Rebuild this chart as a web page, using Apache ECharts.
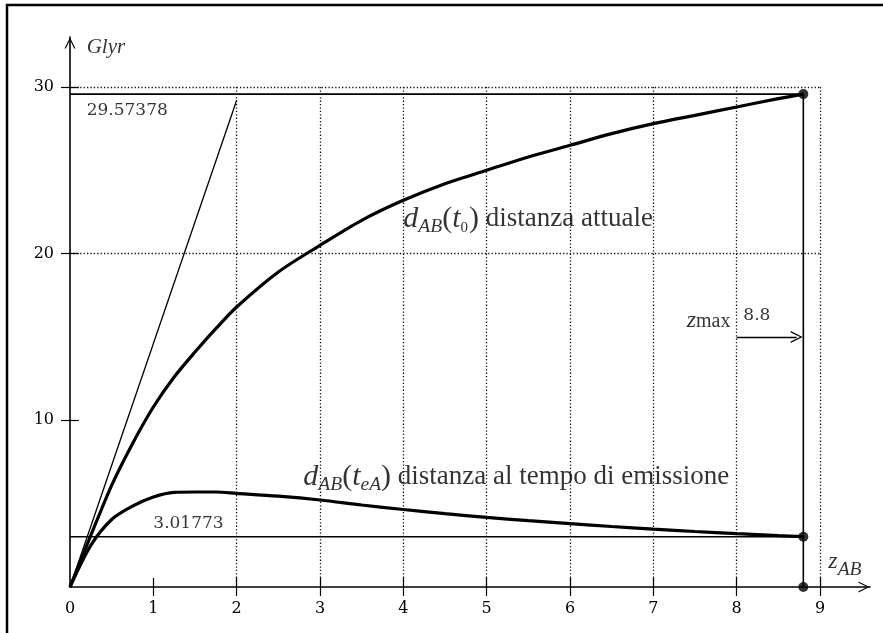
<!DOCTYPE html>
<html>
<head>
<meta charset="utf-8">
<script src="https://cdn.jsdelivr.net/npm/echarts@6/dist/echarts.min.js"></script>
<style>html,body{margin:0;padding:0;background:#fff;}#c{width:883px;height:633px;}</style>
</head>
<body>
<div id="c"></div>
<script>
// ---- data ----
const zValues = [0, 0.25, 0.5, 0.75, 1, 1.25, 1.5, 1.75, 2, 2.5, 3, 3.5, 4, 4.5, 5, 5.5, 6, 6.5, 7, 7.5, 8, 8.5, 8.8];
const dNow    = [0, 3.1, 6.1, 8.6, 10.8, 12.6, 14.1, 15.5, 16.8, 18.9, 20.5, 22.0, 23.2, 24.2, 25.0, 25.8, 26.5, 27.2, 27.8, 28.3, 28.8, 29.3, 29.57378];
const dEmit   = [0, 2.5, 4.05, 4.85, 5.4, 5.68, 5.7, 5.7, 5.62, 5.45, 5.22, 4.92, 4.65, 4.4, 4.18, 3.98, 3.8, 3.63, 3.47, 3.33, 3.2, 3.08, 3.01773];
const hubbleZ = [0, 2];
const hubbleD = [0, 29.2];
const zMax = 8.8;
const dNowMax = 29.57378;
const dEmitMax = 3.01773;
const zMaxArrowFrom = 8;
const zMaxArrowTo = 8.72;
const zMaxArrowY = 15;
const xTickValues = [0, 1, 2, 3, 4, 5, 6, 7, 8, 9];
const xCrossTicks = [1, 2, 3, 4, 5, 6, 7, 8, 9];
const yTickValues = [10, 20, 30];

const pairs = (xs, ys) => xs.map((x, i) => [x, ys[i]]);
const chevron = 'path://M0,12 L6,0 L12,12 L10.6,12 L6,2.6 L1.4,12 Z';
const serif = 'Liberation Serif';
const numFont = 'DejaVu Serif';
const dotted = { color: '#111', width: 1.3, type: [1.3, 2.1] };

const chart = echarts.init(document.getElementById('c'), null, { renderer: 'canvas' });

const annotations = [
  { value: [0.2, 28.6], text: '29.57378', font: { fontFamily: numFont, fontSize: 17 } },
  { value: [1.0, 3.78], text: '3.01773', font: { fontFamily: numFont, fontSize: 17 } },
  { value: [8.08, 16.3], text: '8.8', font: { fontFamily: numFont, fontSize: 17 } },
  { value: [0.2, 32.4], text: '{gi|Glyr}' },
  { value: [9.1, 1.5], text: '{zi|z}{sub|AB}' },
  { value: [7.4, 16.0], text: '{zi|z}{mx|max}' },
  { value: [4.0, 22.1], text: '{m|d}{sub|AB}{p|(}{m|t}{sub0|0}{p|)}{tx| distanza attuale}' },
  { value: [2.8, 6.6], text: '{m|d}{sub|AB}{p|(}{m|t}{sub|eA}{p|)}{tx| distanza al tempo di emissione}' }
];

const richStyles = {
  gi: { fontFamily: serif, fontStyle: 'italic', fontSize: 21, color: '#000' },
  zi: { fontFamily: serif, fontStyle: 'italic', fontSize: 24, color: '#000' },
  mx: { fontFamily: serif, fontSize: 20, color: '#000', padding: [3, 0, 0, 0] },
  m: { fontFamily: serif, fontStyle: 'italic', fontSize: 30, color: '#000' },
  p: { fontFamily: serif, fontSize: 30, color: '#000' },
  sub: { fontFamily: serif, fontStyle: 'italic', fontSize: 19.5, color: '#000', padding: [16, 0, 0, 0] },
  sub0: { fontFamily: serif, fontSize: 15, color: '#000', padding: [18, 1, 0, 0] },
  tx: { fontFamily: serif, fontSize: 27, color: '#000' }
};

const option = {
  animation: false,
  backgroundColor: '#fff',
  textStyle: { fontFamily: serif, color: '#000' },
  graphic: [{
    type: 'rect', shape: { x: 7, y: 5, width: 900, height: 700 },
    style: { fill: 'none', stroke: '#000', lineWidth: 2.5 }, silent: true
  }],
  grid: [
    { left: 70, right: 63, top: 87, bottom: 46, outerBoundsMode: 'none', containLabel: false },
    { left: 70, right: 13, top: 37, bottom: 46, outerBoundsMode: 'none', containLabel: false }
  ],
  xAxis: [
    {
      gridIndex: 0, type: 'value', min: 0, max: 9, interval: 1,
      axisLine: { show: false },
      axisTick: { show: true, length: 9, inside: false, customValues: xCrossTicks, lineStyle: { color: '#000', width: 1.2 } },
      axisLabel: { show: true, margin: 14, color: '#000', fontFamily: numFont, fontSize: 16, customValues: xTickValues },
      splitLine: { show: true, showMinLine: false, lineStyle: dotted }
    },
    {
      gridIndex: 1, type: 'value', min: 0, max: 9.6,
      axisLine: { show: true, symbol: ['none', chevron], symbolSize: [11, 14], symbolOffset: [0, -6], lineStyle: { color: '#000', width: 1.6 } },
      axisTick: { show: true, length: 9, inside: true, customValues: xCrossTicks, lineStyle: { color: '#000', width: 1.2 } },
      axisLabel: { show: false },
      splitLine: { show: false }
    }
  ],
  yAxis: [
    {
      gridIndex: 0, type: 'value', min: 0, max: 30, interval: 5,
      axisLine: { show: false },
      axisTick: { show: true, length: 9, inside: false, customValues: yTickValues, lineStyle: { color: '#000', width: 1.2 } },
      axisLabel: { show: true, margin: 16, color: '#000', fontFamily: numFont, fontSize: 16, customValues: yTickValues },
      splitLine: { show: true, showMinLine: false, lineStyle: dotted }
    },
    {
      gridIndex: 1, type: 'value', min: 0, max: 33,
      axisLine: { show: true, symbol: ['none', chevron], symbolSize: [11, 14], symbolOffset: [0, -6], lineStyle: { color: '#000', width: 1.6 } },
      axisTick: { show: true, length: 9, inside: true, customValues: yTickValues, lineStyle: { color: '#000', width: 1.2 } },
      axisLabel: { show: false },
      splitLine: { show: false }
    }
  ],
  series: [
    {
      type: 'line', xAxisIndex: 0, yAxisIndex: 0, data: pairs(hubbleZ, hubbleD),
      showSymbol: false, symbol: 'none', lineStyle: { color: '#000', width: 1.3 }, z: 3
    },
    {
      type: 'line', xAxisIndex: 0, yAxisIndex: 0, data: [[0, dNowMax], [zMax, dNowMax], [zMax, 0]],
      showSymbol: false, symbol: 'none', lineStyle: { color: '#000', width: 1.6 }, z: 3
    },
    {
      type: 'line', xAxisIndex: 0, yAxisIndex: 0, data: [[0, dEmitMax], [zMax, dEmitMax]],
      showSymbol: false, symbol: 'none', lineStyle: { color: '#000', width: 1.6 }, z: 3
    },
    {
      type: 'line', xAxisIndex: 0, yAxisIndex: 0, data: pairs(zValues, dNow), smooth: 0.3,
      showSymbol: false, symbol: 'none', lineStyle: { color: '#000', width: 3.2 }, z: 4
    },
    {
      type: 'line', xAxisIndex: 0, yAxisIndex: 0, data: pairs(zValues, dEmit), smooth: 0.3,
      showSymbol: false, symbol: 'none', lineStyle: { color: '#000', width: 3.2 }, z: 4
    },
    {
      type: 'scatter', xAxisIndex: 0, yAxisIndex: 0, data: [[zMax, dNowMax], [zMax, dEmitMax], [zMax, 0]],
      symbol: 'circle', symbolSize: 10, itemStyle: { color: '#000' }, z: 5
    },
    {
      type: 'lines', coordinateSystem: 'cartesian2d', xAxisIndex: 0, yAxisIndex: 0,
      data: [{ coords: [[zMaxArrowFrom, zMaxArrowY], [zMaxArrowTo, zMaxArrowY]] }],
      symbol: ['none', chevron], symbolSize: [10, 12],
      lineStyle: { color: '#000', width: 1.3, opacity: 1, curveness: 0 }, z: 5
    },
    {
      type: 'scatter', xAxisIndex: 1, yAxisIndex: 1, symbolSize: 0, silent: true, z: 6,
      data: annotations.map(a => ({
        value: a.value,
        label: Object.assign({
          show: true, position: 'right', distance: 0, formatter: a.text,
          align: 'left', verticalAlign: 'middle', color: '#000', rich: richStyles
        }, a.font || {})
      }))
    }
  ]
};
chart.setOption(option);
</script>
</body>
</html>
